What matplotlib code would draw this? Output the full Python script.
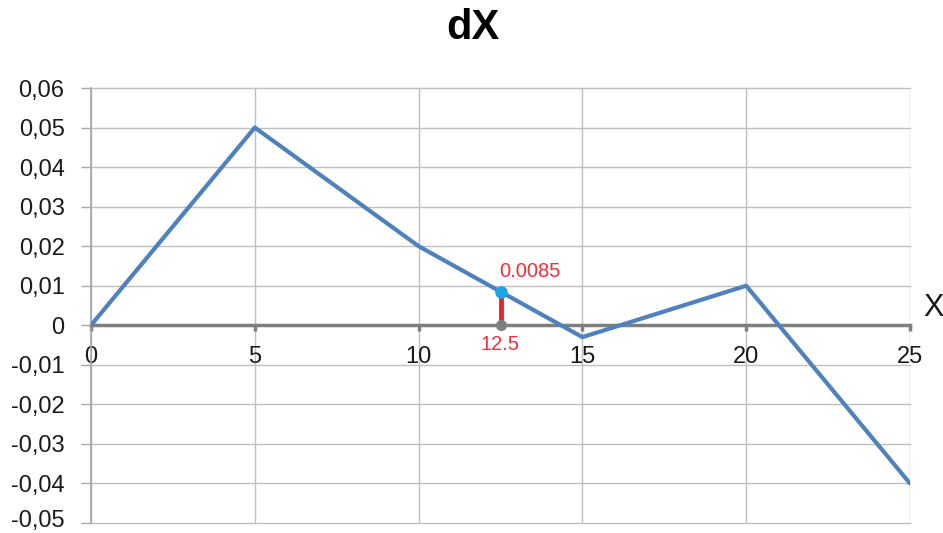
import matplotlib.pyplot as plt
import matplotlib.transforms as mtransforms
from matplotlib.ticker import FuncFormatter

plt.rcParams['font.family'] = ['Liberation Sans', 'DejaVu Sans']

# Datos
x = [0, 5, 10, 15, 20, 25]
dx = [0.0, 0.05, 0.02, -0.003, 0.01, -0.04]
x_punto = 12.5
y_punto = 0.0085
yticks = [-0.05, -0.04, -0.03, -0.02, -0.01, 0, 0.01, 0.02, 0.03, 0.04, 0.05, 0.06]
xticks = [0, 5, 10, 15, 20, 25]

fig = plt.figure(figsize=(9.43, 5.33), dpi=100)
ax = fig.add_axes([91 / 943, 10 / 533, 819 / 943, 435 / 533])

ax.plot(x, dx, color='#4F81BD', linewidth=3, zorder=3, solid_capstyle='round')

# Punto marcado y su proyección sobre el eje
ax.plot([x_punto, x_punto], [0, y_punto], color='#E8242C', linewidth=3.5, zorder=4)
ax.plot(x_punto, 0, 'o', color='#7F7F7F', markersize=7, zorder=5)
ax.plot(x_punto, y_punto, 'o', color='#1AA7E6', markersize=8, zorder=5)
ax.annotate(f'{y_punto}', (x_punto, y_punto), xytext=(-1, 8), textcoords='offset points',
            color='#F0303A', fontsize=14.5, ha='left', va='bottom')
ax.annotate(f'{x_punto}', (x_punto, 0), xytext=(0, -7), textcoords='offset points',
            color='#F0303A', fontsize=14.5, ha='center', va='top')

ax.set_xlim(0, 25)
ax.set_ylim(-0.05, 0.06)
ax.set_xticks(xticks)
ax.set_yticks(yticks)
ax.yaxis.set_major_formatter(FuncFormatter(lambda v, p: '0' if abs(v) < 1e-9 else f'{v:.2f}'.replace('.', ',')))

ax.grid(True, color='#BFBFBF', linewidth=1)
ax.set_axisbelow(True)
for gl in ax.get_xgridlines() + ax.get_ygridlines():
    gl.set_clip_on(False)

for s in ['top', 'right']:
    ax.spines[s].set_visible(False)
ax.spines['left'].set_color('#A6A6A6')
ax.spines['left'].set_linewidth(1.2)
ax.spines['bottom'].set_position(('data', 0))
ax.spines['bottom'].set_color('#7F7F7F')
ax.spines['bottom'].set_linewidth(2.5)
ax.spines['bottom'].set_zorder(2)

ax.tick_params(axis='y', length=7, width=1, color='#A6A6A6', pad=12, labelsize=17, labelcolor='#1A1A1A')
ax.tick_params(axis='x', length=4, width=2.5, color='#7F7F7F', pad=11, labelsize=17, labelcolor='#1A1A1A')

# la etiqueta de abajo se sube un poco para que no quede cortada
lbl = ax.get_yticklabels()[0]
lbl.set_transform(lbl.get_transform() + mtransforms.ScaledTranslation(0, 4 / 100, fig.dpi_scale_trans))

fig.text(0.5015, 0.947, 'dX', fontsize=30, fontweight='bold', ha='center', va='center')
ax.text(1.016, 0.0043, 'X', transform=ax.get_yaxis_transform(), fontsize=22,
        ha='left', va='center', color='#1A1A1A')

fig.savefig('out.png', dpi=100)
